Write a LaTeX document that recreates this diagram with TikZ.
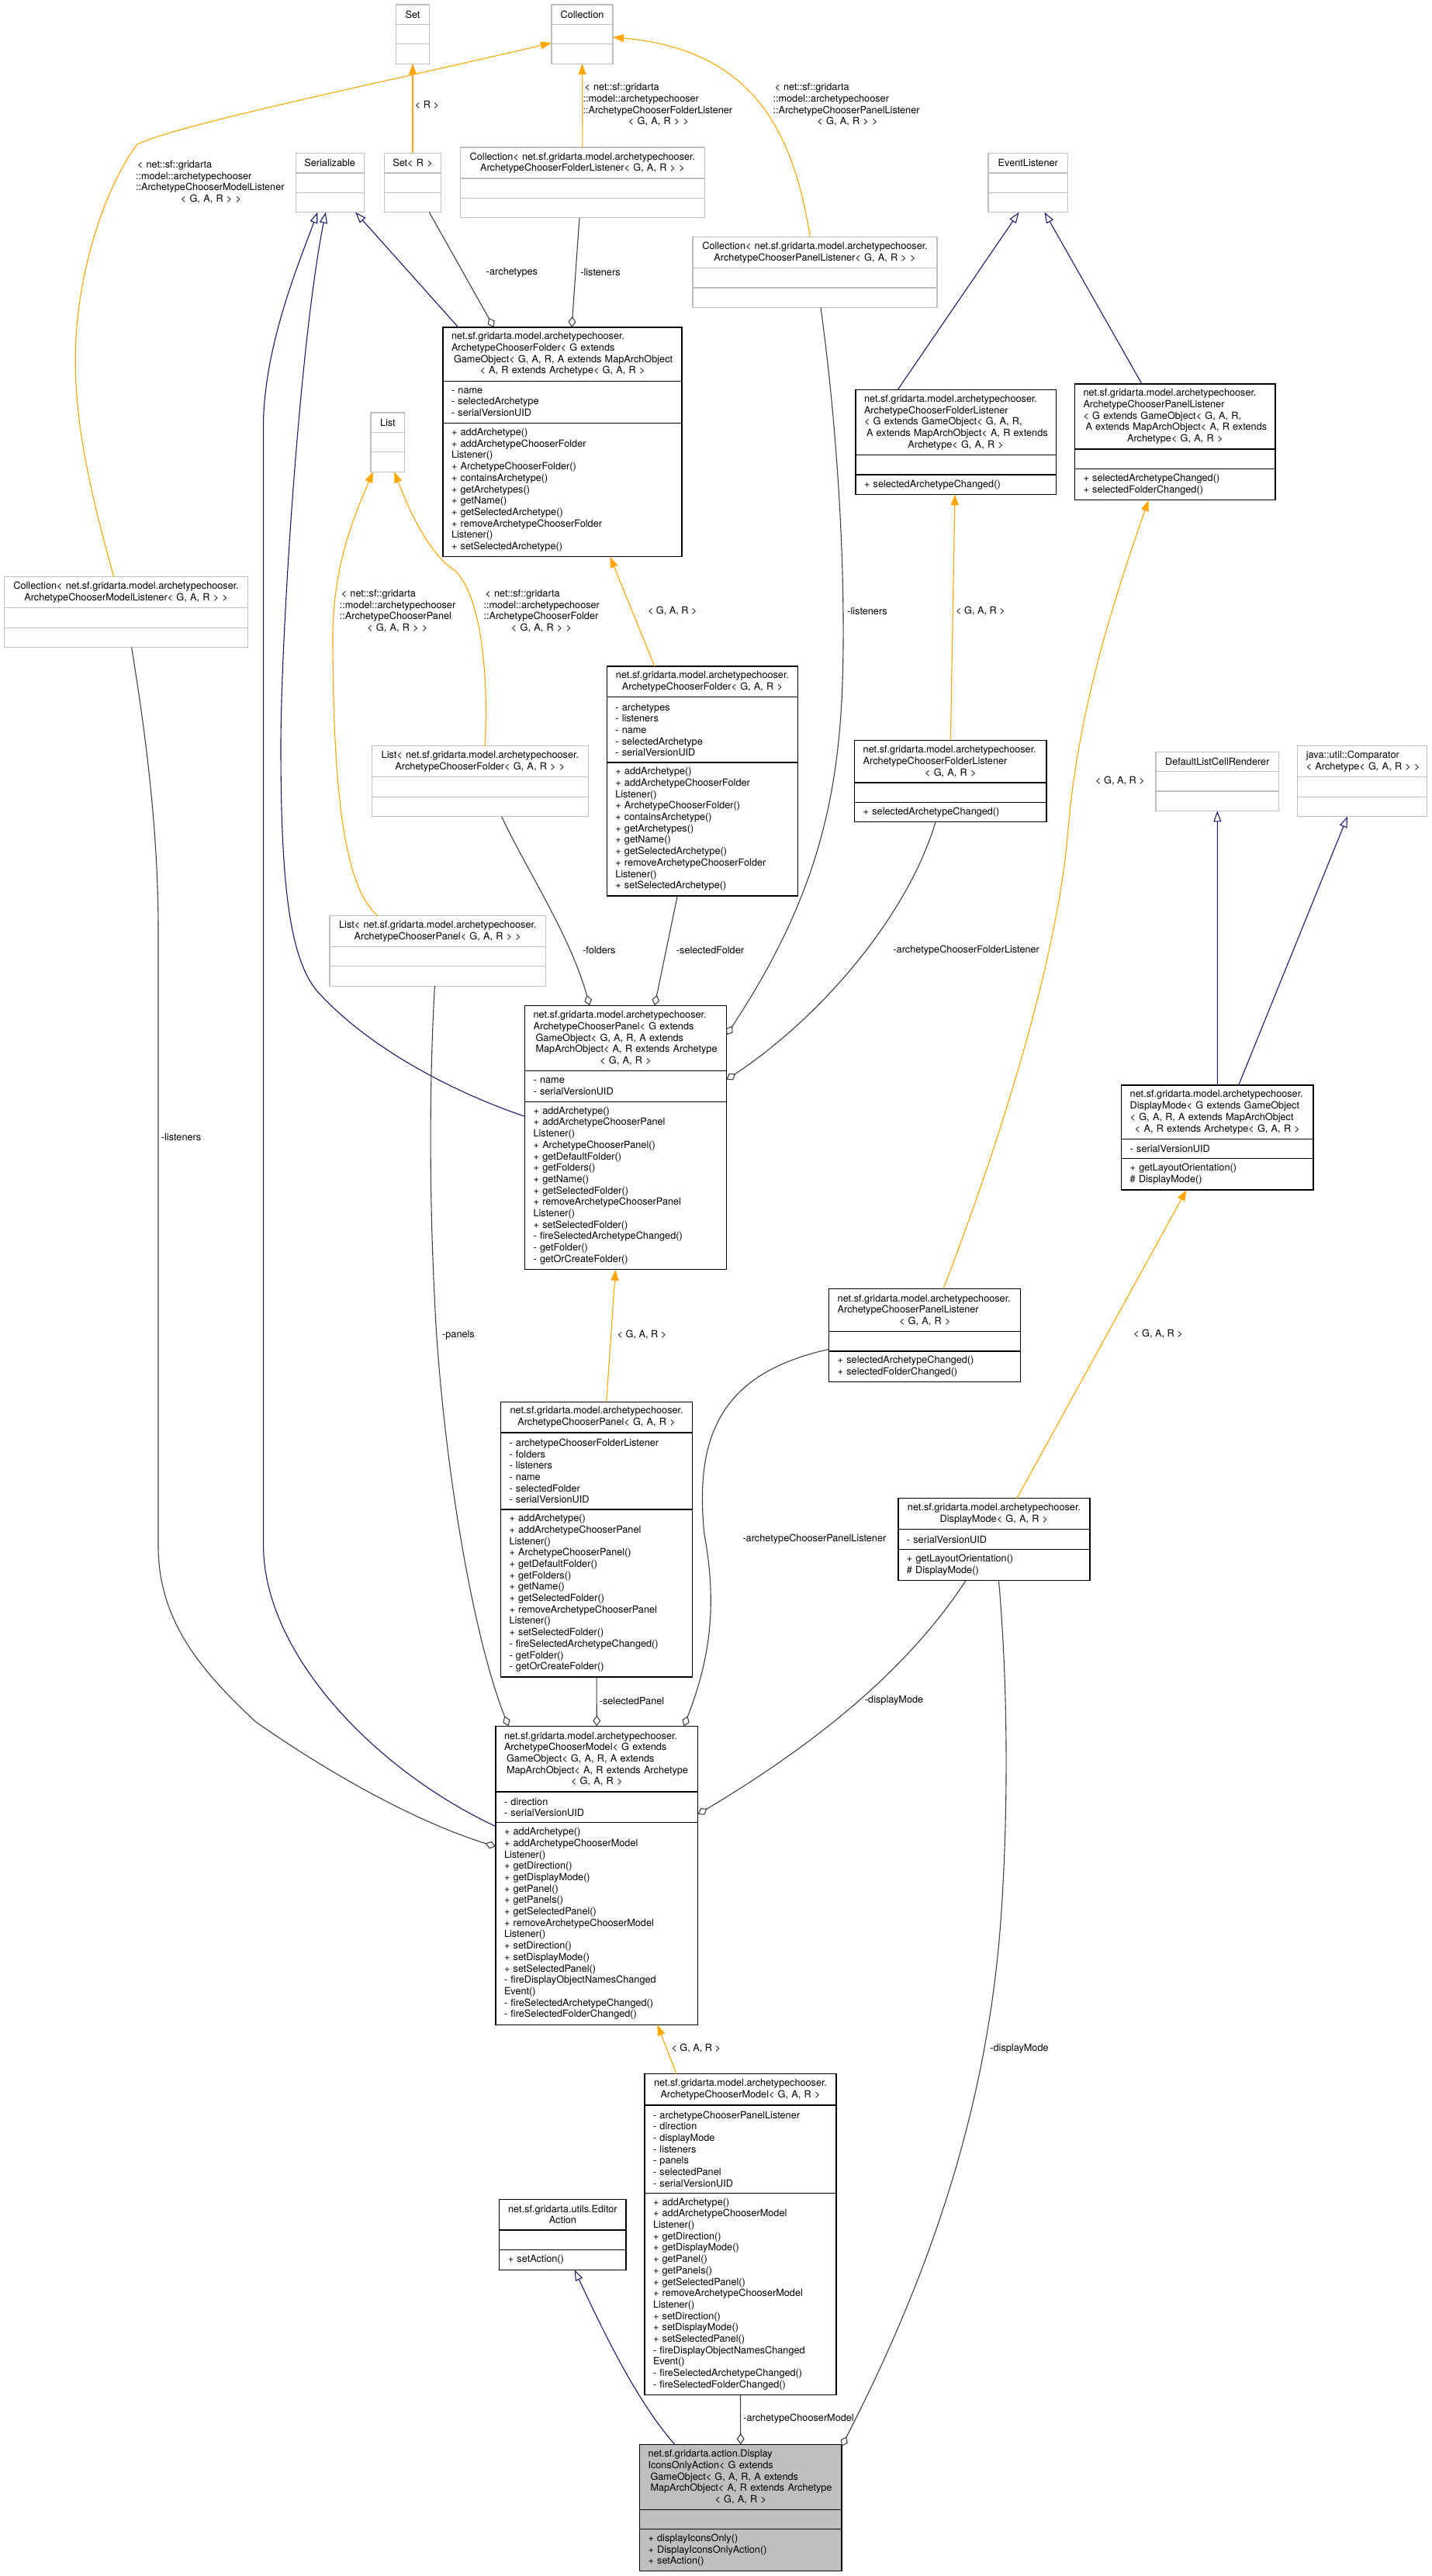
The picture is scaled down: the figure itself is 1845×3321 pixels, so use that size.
\documentclass[tikz,border=0pt]{standalone}
\usepackage{fontspec}
\setmainfont{TeX Gyre Heros}
\usepackage{tikz}
\usetikzlibrary{positioning}
\usetikzlibrary{arrows.meta}

\definecolor{basegray}{HTML}{BFBFBF}
\definecolor{inhblue}{HTML}{191970}
\definecolor{tplorange}{HTML}{FFA500}
\definecolor{usegray}{HTML}{404040}
\newcommand{\midline}[1]{\makebox[\hsize]{#1}}

\begin{document}
\begin{tikzpicture}[x=1pt,y=-1pt,
		every node/.style={font=\fontsize{12.7}{14.7}\selectfont},
		cell/.style={draw=black,line width=1.2pt,outer sep=0pt,inner xsep=11pt,inner ysep=0pt,align=left},
		top/.style={cell,anchor=north west},
		gcell/.style={cell,draw=basegray},
		gtop/.style={top,draw=basegray,align=center},
		lbl/.style={inner sep=0pt,align=left},
		inherit/.style={draw=inhblue,line width=1.1pt,-{Triangle[open,length=14pt,width=10pt]}},
		templ/.style={draw=tplorange,line width=1.1pt,-{Triangle[length=14pt,width=10pt]}},
		assoc/.style={draw=usegray,line width=1.1pt,-{Diamond[open,length=14pt,width=10pt]}}]
			\useasboundingbox (0,0) rectangle (1845,3321);

			\node[gtop,text width=21pt,minimum height=25.4pt] (set) at (510.5,6) {Set};
			\node[gcell,text width=21pt,minimum height=25.4pt,below=0pt of set] (setA) {};
			\node[gcell,text width=21pt,minimum height=25.4pt,below=0pt of setA] (setO) {};

			\node[gtop,text width=57pt,minimum height=25.4pt] (coll) at (711,6) {Collection};
			\node[gcell,text width=57pt,minimum height=25.4pt,below=0pt of coll] (collA) {};
			\node[gcell,text width=57pt,minimum height=25.4pt,below=0pt of collA] (collO) {};

			\node[gtop,text width=66pt,minimum height=25.4pt] (serial) at (381.2,197.5) {Serializable};
			\node[gcell,text width=66pt,minimum height=25.4pt,below=0pt of serial] (serialA) {};
			\node[gcell,text width=66pt,minimum height=25.4pt,below=0pt of serialA] (serialO) {};

			\node[gtop,text width=51.4pt,minimum height=25.4pt] (setr) at (495.3,197.5) {\midline{Set< R >}};
			\node[gcell,text width=51.4pt,minimum height=25.4pt,below=0pt of setr] (setrA) {};
			\node[gcell,text width=51.4pt,minimum height=25.4pt,below=0pt of setrA] (setrO) {};

			\node[gtop,text width=293.2pt,minimum height=40pt] (collfl) at (593.3,190) {Collection< net.sf.gridarta.model.archetypechooser.\\ArchetypeChooserFolderListener< G, A, R > >};
			\node[gcell,text width=293.2pt,minimum height=25.4pt,below=0pt of collfl] (collflA) {};
			\node[gcell,text width=293.2pt,minimum height=25.4pt,below=0pt of collflA] (collflO) {};

			\node[gtop,text width=293pt,minimum height=40pt] (collpl) at (893,305.5) {Collection< net.sf.gridarta.model.archetypechooser.\\ArchetypeChooserPanelListener< G, A, R > >};
			\node[gcell,text width=293pt,minimum height=25.4pt,below=0pt of collpl] (collplA) {};
			\node[gcell,text width=293pt,minimum height=25.4pt,below=0pt of collplA] (collplO) {};

			\node[gtop,text width=80.6pt,minimum height=25.4pt] (evl) at (1274,197.5) {EventListener};
			\node[gcell,text width=80.6pt,minimum height=25.4pt,below=0pt of evl] (evlA) {};
			\node[gcell,text width=80.6pt,minimum height=25.4pt,below=0pt of evlA] (evlO) {};

			\node[top,text width=286pt,minimum height=69.3pt] (foldg) at (571,422) {net.sf.gridarta.model.archetypechooser.\\ArchetypeChooserFolder< G extends\\\hspace*{3pt}GameObject< G, A, R, A extends MapArchObject\\\midline{< A, R extends Archetype< G, A, R >}};
			\node[cell,text width=286pt,minimum height=54.5pt,below=0pt of foldg] (foldgA) {- name\\- selectedArchetype\\- serialVersionUID};
			\node[cell,text width=286pt,minimum height=172pt,below=0pt of foldgA] (foldgO) {+ addArchetype()\\+ addArchetypeChooserFolder\\Listener()\\+ ArchetypeChooserFolder()\\+ containsArchetype()\\+ getArchetypes()\\+ getName()\\+ getSelectedArchetype()\\+ removeArchetypeChooserFolder\\Listener()\\+ setSelectedArchetype()};

			\node[gtop,text width=21.7pt,minimum height=25.4pt] (list) at (478,532) {List};
			\node[gcell,text width=21.7pt,minimum height=25.4pt,below=0pt of list] (listA) {};
			\node[gcell,text width=21.7pt,minimum height=25.4pt,below=0pt of listA] (listO) {};

			\node[gtop,text width=292.5pt,minimum height=40pt] (cml) at (5.3,743.8) {Collection< net.sf.gridarta.model.archetypechooser.\\ArchetypeChooserModelListener< G, A, R > >};
			\node[gcell,text width=292.5pt,minimum height=25.4pt,below=0pt of cml] (cmlA) {};
			\node[gcell,text width=292.5pt,minimum height=25.4pt,below=0pt of cmlA] (cmlO) {};

			\node[top,text width=236.3pt,minimum height=84.2pt] (aflg) at (1103,502.4) {net.sf.gridarta.model.archetypechooser.\\ArchetypeChooserFolderListener\\< G extends GameObject< G, A, R,\\\hspace*{3pt}\mbox{A extends MapArchObject< A, R extends}\\\midline{Archetype< G, A, R >}};
			\node[cell,text width=236.3pt,minimum height=25.4pt,below=0pt of aflg] (aflgA) {};
			\node[cell,text width=236.3pt,minimum height=25.4pt,below=0pt of aflgA] (aflgO) {+ selectedArchetypeChanged()};

			\node[top,text width=236.5pt,minimum height=84pt] (aplg) at (1385.5,495) {net.sf.gridarta.model.archetypechooser.\\ArchetypeChooserPanelListener\\< G extends GameObject< G, A, R,\\\hspace*{3pt}\mbox{A extends MapArchObject< A, R extends}\\\midline{Archetype< G, A, R >}};
			\node[cell,text width=236.5pt,minimum height=25.4pt,below=0pt of aplg] (aplgA) {};
			\node[cell,text width=236.5pt,minimum height=40.4pt,below=0pt of aplgA] (aplgO) {+ selectedArchetypeChanged()\\+ selectedFolderChanged()};

			\node[top,align=center,text width=224.3pt,minimum height=39.8pt] (foldt) at (782.3,859) {net.sf.gridarta.model.archetypechooser.\\ArchetypeChooserFolder< G, A, R >};
			\node[cell,text width=224.3pt,minimum height=84.2pt,below=0pt of foldt] (foldtA) {- archetypes\\- listeners\\- name\\- selectedArchetype\\- serialVersionUID};
			\node[cell,text width=224.3pt,minimum height=172pt,below=0pt of foldtA] (foldtO) {+ addArchetype()\\+ addArchetypeChooserFolder\\Listener()\\+ ArchetypeChooserFolder()\\+ containsArchetype()\\+ getArchetypes()\\+ getName()\\+ getSelectedArchetype()\\+ removeArchetypeChooserFolder\\Listener()\\+ setSelectedArchetype()};

			\node[gtop,text width=256.7pt,minimum height=40pt] (lf) at (479.5,961.8) {List< net.sf.gridarta.model.archetypechooser.\\ArchetypeChooserFolder< G, A, R > >};
			\node[gcell,text width=256.7pt,minimum height=25.4pt,below=0pt of lf] (lfA) {};
			\node[gcell,text width=256.7pt,minimum height=25.4pt,below=0pt of lfA] (lfO) {};

			\node[gtop,text width=256.6pt,minimum height=40pt] (lp) at (425,1180.4) {List< net.sf.gridarta.model.archetypechooser.\\ArchetypeChooserPanel< G, A, R > >};
			\node[gcell,text width=256.6pt,minimum height=25.4pt,below=0pt of lp] (lpA) {};
			\node[gcell,text width=256.6pt,minimum height=25.4pt,below=0pt of lpA] (lpO) {};

			\node[top,text width=237.9pt,minimum height=84.1pt] (pang) at (676.6,1296.4) {net.sf.gridarta.model.archetypechooser.\\ArchetypeChooserPanel< G extends\\\hspace*{3pt}GameObject< G, A, R, A extends\\\hspace*{3pt}MapArchObject< A, R extends Archetype\\\midline{< G, A, R >}};
			\node[cell,text width=237.9pt,minimum height=39.8pt,below=0pt of pang] (pangA) {- name\\- serialVersionUID};
			\node[cell,text width=237.9pt,minimum height=216.5pt,below=0pt of pangA] (pangO) {+ addArchetype()\\+ addArchetypeChooserPanel\\Listener()\\+ ArchetypeChooserPanel()\\+ getDefaultFolder()\\+ getFolders()\\+ getName()\\+ getSelectedFolder()\\+ removeArchetypeChooserPanel\\Listener()\\+ setSelectedFolder()\\- fireSelectedArchetypeChanged()\\- getFolder()\\- getOrCreateFolder()};

			\node[top,text width=225.3pt,minimum height=54.6pt] (aflt) at (1101.7,954.4) {net.sf.gridarta.model.archetypechooser.\\ArchetypeChooserFolderListener\\\midline{< G, A, R >}};
			\node[cell,text width=225.3pt,minimum height=25.3pt,below=0pt of aflt] (afltA) {};
			\node[cell,text width=225.3pt,minimum height=25.4pt,below=0pt of afltA] (afltO) {+ selectedArchetypeChanged()};

			\node[gtop,text width=136.6pt,minimum height=25.4pt] (dlr) at (1490,969.2) {DefaultListCellRenderer};
			\node[gcell,text width=136.6pt,minimum height=25.4pt,below=0pt of dlr] (dlrA) {};
			\node[gcell,text width=136.6pt,minimum height=25.4pt,below=0pt of dlrA] (dlrO) {};

			\node[gtop,align=left,text width=145pt,minimum height=40pt] (cmp) at (1672.8,961.8) {java::util::Comparator\\\mbox{< Archetype< G, A, R > >}};
			\node[gcell,text width=145pt,minimum height=25.4pt,below=0pt of cmp] (cmpA) {};
			\node[gcell,text width=145pt,minimum height=25.4pt,below=0pt of cmpA] (cmpO) {};

			\node[top,text width=225.3pt,minimum height=69.4pt] (dmg) at (1445.7,1399) {net.sf.gridarta.model.archetypechooser.\\DisplayMode< G extends GameObject\\< G, A, R, A extends MapArchObject\\\midline{< A, R extends Archetype< G, A, R >}};
			\node[cell,text width=225.3pt,minimum height=25.4pt,below=0pt of dmg] (dmgA) {- serialVersionUID};
			\node[cell,text width=225.3pt,minimum height=40.2pt,below=0pt of dmgA] (dmgO) {+ getLayoutOrientation()\\\# DisplayMode()};

			\node[top,text width=225pt,minimum height=55pt] (aplt) at (1068.7,1661.6) {net.sf.gridarta.model.archetypechooser.\\ArchetypeChooserPanelListener\\\midline{< G, A, R >}};
			\node[cell,text width=225pt,minimum height=25.4pt,below=0pt of aplt] (apltA) {};
			\node[cell,text width=225pt,minimum height=39.8pt,below=0pt of apltA] (apltO) {+ selectedArchetypeChanged()\\+ selectedFolderChanged()};

			\node[top,align=center,text width=225.1pt,minimum height=39.7pt] (pant) at (645.5,1807.2) {net.sf.gridarta.model.archetypechooser.\\ArchetypeChooserPanel< G, A, R >};
			\node[cell,text width=225.1pt,minimum height=99pt,below=0pt of pant] (pantA) {- archetypeChooserFolderListener\\- folders\\- listeners\\- name\\- selectedFolder\\- serialVersionUID};
			\node[cell,text width=225.1pt,minimum height=216pt,below=0pt of pantA] (pantO) {+ addArchetype()\\+ addArchetypeChooserPanel\\Listener()\\+ ArchetypeChooserPanel()\\+ getDefaultFolder()\\+ getFolders()\\+ getName()\\+ getSelectedFolder()\\+ removeArchetypeChooserPanel\\Listener()\\+ setSelectedFolder()\\- fireSelectedArchetypeChanged()\\- getFolder()\\- getOrCreateFolder()};

			\node[top,align=center,text width=225pt,minimum height=40.2pt] (dmt) at (1157.9,1931.6) {net.sf.gridarta.model.archetypechooser.\\DisplayMode< G, A, R >};
			\node[cell,text width=225pt,minimum height=25.4pt,below=0pt of dmt] (dmtA) {- serialVersionUID};
			\node[cell,text width=225pt,minimum height=40.2pt,below=0pt of dmtA] (dmtO) {+ getLayoutOrientation()\\\# DisplayMode()};

			\node[top,text width=238.6pt,minimum height=84.6pt] (modg) at (639,2225.4) {net.sf.gridarta.model.archetypechooser.\\ArchetypeChooserModel< G extends\\\hspace*{3pt}GameObject< G, A, R, A extends\\\hspace*{3pt}MapArchObject< A, R extends Archetype\\\midline{< G, A, R >}};
			\node[cell,text width=238.6pt,minimum height=39.8pt,below=0pt of modg] (modgA) {- direction\\- serialVersionUID};
			\node[cell,text width=238.6pt,minimum height=260.4pt,below=0pt of modgA] (modgO) {+ addArchetype()\\+ addArchetypeChooserModel\\Listener()\\+ getDirection()\\+ getDisplayMode()\\+ getPanel()\\+ getPanels()\\+ getSelectedPanel()\\+ removeArchetypeChooserModel\\Listener()\\+ setDirection()\\+ setDisplayMode()\\+ setSelectedPanel()\\- fireDisplayObjectNamesChanged\\Event()\\- fireSelectedArchetypeChanged()\\- fireSelectedFolderChanged()};

			\node[top,align=center,text width=141.2pt,minimum height=39.7pt] (edit) at (643.8,2835.2) {net.sf.gridarta.utils.Editor\\Action};
			\node[cell,text width=141.2pt,minimum height=25.4pt,below=0pt of edit] (editA) {};
			\node[cell,text width=141.2pt,minimum height=25.9pt,below=0pt of editA] (editO) {+ setAction()};

			\node[top,align=center,text width=225pt,minimum height=40.2pt] (modt) at (831,2673.7) {net.sf.gridarta.model.archetypechooser.\\ArchetypeChooserModel< G, A, R >};
			\node[cell,text width=225pt,minimum height=113.3pt,below=0pt of modt] (modtA) {- archetypeChooserPanelListener\\- direction\\- displayMode\\- listeners\\- panels\\- selectedPanel\\- serialVersionUID};
			\node[cell,text width=225pt,minimum height=260.5pt,below=0pt of modtA] (modtO) {+ addArchetype()\\+ addArchetypeChooserModel\\Listener()\\+ getDirection()\\+ getDisplayMode()\\+ getPanel()\\+ getPanels()\\+ getSelectedPanel()\\+ removeArchetypeChooserModel\\Listener()\\+ setDirection()\\+ setDisplayMode()\\+ setSelectedPanel()\\- fireDisplayObjectNamesChanged\\Event()\\- fireSelectedArchetypeChanged()\\- fireSelectedFolderChanged()};

			\node[top,fill=basegray,text width=238.5pt,minimum height=84.2pt] (icons) at (824.5,3151.2) {net.sf.gridarta.action.Display\\IconsOnlyAction< G extends\\\hspace*{3pt}GameObject< G, A, R, A extends\\\hspace*{3pt}MapArchObject< A, R extends Archetype\\\midline{< G, A, R >}};
			\node[cell,fill=basegray,text width=238.5pt,minimum height=25.4pt,below=0pt of icons] (iconsA) {};
			\node[cell,fill=basegray,text width=238.5pt,minimum height=54pt,below=0pt of iconsA] (iconsO) {+ displayIconsOnly()\\+ DisplayIconsOnlyAction()\\+ setAction()};

			\draw[templ] ([xshift=-15.8]cml.north) .. controls (115,630) and (95,540) .. (97.4,450) .. controls (99.5,360) and (130,250) .. (176.6,186.3) .. controls (230,160) and (500,105) .. ([yshift=1.5]collA.south west);
			\draw[templ] (setr.north) -- (setO.south);
			\draw[templ] (collfl.north) -- (collO.south);
			\draw[templ] ([xshift=-6]collpl.north) .. controls (1025,190) and (985,65) .. ([yshift=-16.6]collA.north east);
			\draw[templ] ([xshift=-77.8]lp.north) .. controls (440,1140) and (430,1000) .. (429,830) .. controls (428,740) and (450,680) .. ([xshift=-18.85]listO.south);
			\draw[templ] ([xshift=6.15]lf.north) .. controls (630,880) and (622,770) .. (586.8,735.8) .. controls (565,722) and (540,690) .. ([xshift=8.35]listO.south);
			\draw[templ] ([xshift=-61.5]foldt.north) -- ([xshift=61.4]foldgO.south);
			\draw[templ] (aflt.north) -- ([xshift=-1.15]aflgO.south);
			\draw[templ] ([xshift=23.8]aplt.north) .. controls (1290,1470) and (1365,1230) .. (1377,1068) .. controls (1390,920) and (1430,790) .. ([xshift=-34.25]aplgO.south);
			\draw[templ] ([xshift=29.55]dmt.north) -- ([xshift=-39.85]dmgO.south);
			\draw[templ] ([xshift=12.7]pant.north) -- ([xshift=-13.15]pangO.south);
			\draw[templ] ([xshift=-82.5]modt.north) -- ([xshift=78.1]modgO.south);

			\draw[inherit] ([xshift=-134.2]foldg.north) -- ([xshift=33.1]serialO.south);
			\draw[inherit] ([yshift=-19]pangO.north west) .. controls (590,1410) and (480,1355) .. (410.8,1280) .. controls (375,1240) and (362,1150) .. (362,962) .. controls (362,830) and (385,450) .. ([xshift=-5.5]serialO.south);
			\draw[inherit] ([yshift=-4.8]modgO.north west) .. controls (480,2280) and (340,2130) .. (339.6,1993) -- (339.6,540) .. controls (343,440) and (385,340) .. ([xshift=-15.9]serialO.south);
			\draw[inherit] ([xshift=-74.9]aflg.north) -- ([xshift=-11.8]evlO.south);
			\draw[inherit] ([xshift=-42.75]aplg.north) -- ([xshift=21.2]evlO.south);
			\draw[inherit] (dmg.north) -- (dlrO.south);
			\draw[inherit] ([xshift=27.35]dmg.north) -- ([xshift=-19.3]cmpO.south);
			\draw[inherit] ([xshift=-85.05]icons.north) .. controls (820,3095) and (775,3000) .. ([xshift=15.2]editO.south);

			\draw[assoc] ([xshift=21.4]setrO.south) -- ([xshift=-88.3]foldg.north);
			\draw[assoc] ([xshift=-3.9]collflO.south) -- ([xshift=12]foldg.north);
			\draw[assoc] ([xshift=7.5]collplO.south) .. controls (1075,520) and (1088,680) .. (1087,830) .. controls (1086,1000) and (1065,1140) .. ([yshift=-38]pang.north east);
			\draw[assoc] ([xshift=27.85]lfO.south) .. controls (675,1115) and (735,1205) .. ([xshift=-46.5]pang.north);
			\draw[assoc] ([xshift=-32.25]foldtO.south) -- ([xshift=37.35]pang.north);
			\draw[assoc] ([xshift=-19.35]afltO.south) .. controls (1170,1180) and (1060,1310) .. ([yshift=-11.5]pangA.north east);
			\draw[assoc] ([xshift=7.1]cmlO.south) .. controls (185,930) and (204,1060) .. (204,1200) -- (204,1993) .. controls (204,2090) and (260,2155) .. (330,2220) .. controls (430,2290) and (540,2350) .. ([yshift=-30.8]modgO.north west);
			\draw[assoc] ([xshift=-3.9]lpO.south) .. controls (553,1400) and (553,1560) .. (562.7,1720) .. controls (575,1900) and (610,2110) .. ([xshift=-113.8]modg.north);
			\draw[assoc] (pantO.south) -- (modg.north);
			\draw[assoc] ([yshift=2.6]apltA.south west) .. controls (930,1770) and (895,1850) .. (907.9,1977.6) .. controls (925,2070) and (915,2140) .. ([xshift=112.2]modg.north);
			\draw[assoc] ([xshift=-36.15]dmtO.south) .. controls (1165,2160) and (1040,2255) .. ([yshift=-29]modgA.north east);
			\draw[assoc] ([xshift=6.05]dmtO.south) .. controls (1300,2180) and (1300,2350) .. (1289,2490) .. controls (1270,2720) and (1200,2930) .. ([yshift=-2.5]icons.north east);
			\draw[assoc] (modtO.south) -- (icons.north);

			\node[lbl] (lblsetr) at (550.5,135.5) {< R >};
			\node[lbl,text width=195pt] (lblfl) at (849,135) {\hspace*{2pt}< net::sf::gridarta\\::model::archetypechooser\\::ArchetypeChooserFolderListener\\\midline{< G, A, R > >}};
			\node[lbl,text width=192pt] (lblpl) at (1092.5,135) {\hspace*{2pt}< net::sf::gridarta\\::model::archetypechooser\\::ArchetypeChooserPanelListener\\\midline{< G, A, R > >}};
			\node[lbl,text width=194pt] (lblml) at (272,234.8) {\hspace*{2pt}< net::sf::gridarta\\::model::archetypechooser\\::ArchetypeChooserModelListener\\\midline{< G, A, R > >}};
			\node[lbl,text width=149pt] (lblp) at (512.3,787.7) {\hspace*{2pt}< net::sf::gridarta\\::model::archetypechooser\\::ArchetypeChooserPanel\\\midline{< G, A, R > >}};
			\node[lbl,text width=149pt] (lblf) at (698,787.7) {\hspace*{2pt}< net::sf::gridarta\\::model::archetypechooser\\::ArchetypeChooserFolder\\\midline{< G, A, R > >}};
			\node[lbl] (lblarch) at (660,351) {-archetypes};
			\node[lbl] (lbllis) at (774,351) {-listeners};
			\node[lbl] (lblft) at (866.8,787.7) {< G, A, R >};
			\node[lbl] (lblaflt) at (1264,787.7) {< G, A, R >};
			\node[lbl] (lbllispl) at (1118,787.7) {-listeners};
			\node[lbl] (lbllisml) at (233.6,1465.8) {-listeners};
			\node[lbl] (lblfold) at (772.3,1225) {-folders};
			\node[lbl] (lblself) at (915.5,1225) {-selectedFolder};
			\node[lbl] (lblafl) at (1245.7,1225) {-archetypeChooserFolderListener};
			\node[lbl] (lblaplt) at (1444,1007) {< G, A, R >};
			\node[lbl] (lblpant) at (827.5,1721) {< G, A, R >};
			\node[lbl] (lblpanels) at (591,1721) {-panels};
			\node[lbl] (lbldmt) at (1493,1720) {< G, A, R >};
			\node[lbl] (lblselp) at (814.5,2192.5) {-selectedPanel};
			\node[lbl] (lbldm) at (1152.6,2192.5) {-displayMode};
			\node[lbl] (lblapl) at (1049.9,1984) {-archetypeChooserPanelListener};
			\node[lbl] (lblmodt) at (897.3,2641) {< G, A, R >};
			\node[lbl] (lbldmi) at (1314,2641) {-displayMode};
			\node[lbl] (lblmod) at (1029.6,3118.4) {-archetypeChooserModel};
		\end{tikzpicture}
\end{document}
